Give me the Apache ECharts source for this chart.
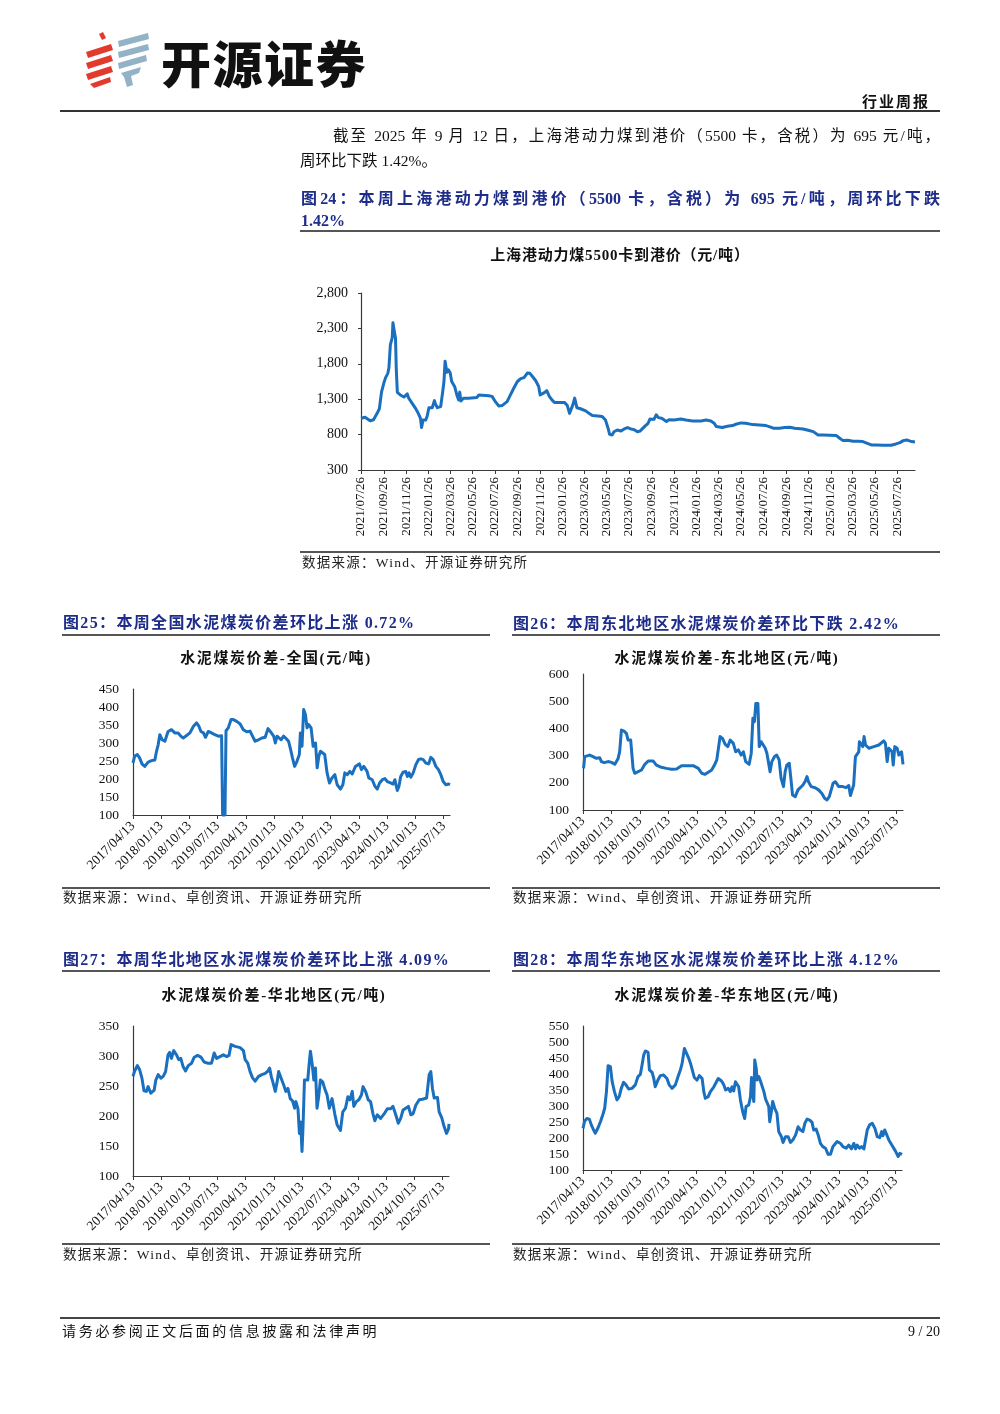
<!DOCTYPE html>
<html>
<head>
<meta charset="utf-8">
<script src="https://cdn.jsdelivr.net/npm/echarts@6/dist/echarts.min.js"></script>
<style>
  html,body{margin:0;padding:0;background:#fff;}
  #page{position:relative;width:1000px;height:1414px;overflow:hidden;background:#fff;}
  #chart{position:absolute;left:0;top:0;width:1000px;height:1414px;z-index:0;}
  .t{position:absolute;white-space:nowrap;z-index:1;font-family:"Liberation Serif","Noto Sans CJK SC",serif;color:#111;line-height:20px;}
  .cap{font-weight:bold;color:#1e2c8a;font-size:16px;letter-spacing:1.35px;}
  .ctitle{font-weight:bold;font-size:15px;letter-spacing:1.6px;text-align:center;color:#111;}
  .src{font-size:13.5px;letter-spacing:1.25px;color:#222;}
  .hl{position:absolute;z-index:1;background:#555;}
  .just{text-align:justify;text-align-last:justify;}
</style>
</head>
<body>
<div id="page">
  <div id="chart"></div>

  <!-- header logo -->
  <svg class="t" style="left:80px;top:28px;" width="75" height="62" viewBox="80 28 75 62">
    <g fill="#e23b2e">
      <polygon points="99,34 103,32 106,38 102,40"/>
      <polygon points="86,52 111,44 113,50 88,58"/>
      <polygon points="86,63 111,55 113,61 88,69"/>
      <polygon points="86,74 111,66 113,72 88,80"/>
      <polygon points="90,84 110,77 111,82 94,88"/>
    </g>
    <g fill="#92b2c6">
      <polygon points="118,41 148,33 149,39 119,47"/>
      <polygon points="118,52 148,44 149,50 119,58"/>
      <polygon points="118,63 146,55 147,61 119,69"/>
      <polygon points="121,73 141,67 139,73 131,76 133,85 127,87 124,77"/>
    </g>
  </svg>
  <div class="t" style="left:161px;top:34px;line-height:54px;font-size:50px;font-weight:900;letter-spacing:1.5px;font-family:'Noto Sans CJK SC',sans-serif;color:#111;">开源证券</div>
  <div class="t" style="right:70px;top:91px;font-size:15px;font-weight:bold;letter-spacing:2px;font-family:'Noto Sans CJK SC',sans-serif;">行业周报</div>
  <div class="hl" style="left:60px;top:110px;width:880px;height:2px;background:#333;"></div>

  <!-- paragraph -->
  <div class="t just" style="left:333px;top:126px;width:607px;font-size:15.5px;">截至 2025 年 9 月 12 日，上海港动力煤到港价（5500 卡，含税）为 695 元/吨，</div>
  <div class="t" style="left:300px;top:151px;font-size:15.5px;">周环比下跌 1.42%。</div>

  <!-- figure 24 caption -->
  <div class="t cap just" style="left:301px;top:189px;width:639px;letter-spacing:0;">图24：本周上海港动力煤到港价（5500 卡，含税）为 695 元/吨，周环比下跌</div>
  <div class="t cap" style="left:301px;top:211px;letter-spacing:0;">1.42%</div>
  <div class="hl" style="left:300px;top:230px;width:640px;height:1.5px;"></div>
  <div class="t ctitle" style="left:420px;top:245px;width:400px;letter-spacing:0.8px;">上海港动力煤5500卡到港价（元/吨）</div>
  <div class="hl" style="left:300px;top:551px;width:640px;height:1.5px;"></div>
  <div class="t src" style="left:302px;top:553px;">数据来源：Wind、开源证券研究所</div>

  <!-- figure 25 -->
  <div class="t cap" style="left:63px;top:613px;">图25：本周全国水泥煤炭价差环比上涨 0.72%</div>
  <div class="hl" style="left:62px;top:634px;width:428px;height:1.5px;"></div>
  <div class="t ctitle" style="left:126px;top:648px;width:300px;">水泥煤炭价差-全国(元/吨)</div>
  <div class="hl" style="left:62px;top:887px;width:428px;height:1.5px;"></div>
  <div class="t src" style="left:63px;top:888px;">数据来源：Wind、卓创资讯、开源证券研究所</div>

  <!-- figure 26 -->
  <div class="t cap" style="left:513px;top:614px;">图26：本周东北地区水泥煤炭价差环比下跌 2.42%</div>
  <div class="hl" style="left:512px;top:634px;width:428px;height:1.5px;"></div>
  <div class="t ctitle" style="left:577px;top:648px;width:300px;">水泥煤炭价差-东北地区(元/吨)</div>
  <div class="hl" style="left:512px;top:887px;width:428px;height:1.5px;"></div>
  <div class="t src" style="left:513px;top:888px;">数据来源：Wind、卓创资讯、开源证券研究所</div>

  <!-- figure 27 -->
  <div class="t cap" style="left:63px;top:950px;">图27：本周华北地区水泥煤炭价差环比上涨 4.09%</div>
  <div class="hl" style="left:62px;top:970px;width:428px;height:1.5px;"></div>
  <div class="t ctitle" style="left:124px;top:985px;width:300px;">水泥煤炭价差-华北地区(元/吨)</div>
  <div class="hl" style="left:62px;top:1243px;width:428px;height:1.5px;"></div>
  <div class="t src" style="left:63px;top:1245px;">数据来源：Wind、卓创资讯、开源证券研究所</div>

  <!-- figure 28 -->
  <div class="t cap" style="left:513px;top:950px;">图28：本周华东地区水泥煤炭价差环比上涨 4.12%</div>
  <div class="hl" style="left:512px;top:970px;width:428px;height:1.5px;"></div>
  <div class="t ctitle" style="left:577px;top:985px;width:300px;">水泥煤炭价差-华东地区(元/吨)</div>
  <div class="hl" style="left:512px;top:1243px;width:428px;height:1.5px;"></div>
  <div class="t src" style="left:513px;top:1245px;">数据来源：Wind、卓创资讯、开源证券研究所</div>

  <!-- footer -->
  <div class="hl" style="left:60px;top:1317px;width:880px;height:2px;background:#444;"></div>
  <div class="t" style="left:62px;top:1322px;font-size:14px;letter-spacing:2.7px;">请务必参阅正文后面的信息披露和法律声明</div>
  <div class="t" style="right:60px;top:1322px;font-size:14px;">9 / 20</div>
</div>

<script>
// ---------------- DATA ----------------
// Fig 24: 上海港动力煤5500卡到港价（元/吨）
const shTickLabels = ['2021/07/26','2021/09/26','2021/11/26','2022/01/26','2022/03/26','2022/05/26','2022/07/26','2022/09/26','2022/11/26','2023/01/26','2023/03/26','2023/05/26','2023/07/26','2023/09/26','2023/11/26','2024/01/26','2024/03/26','2024/05/26','2024/07/26','2024/09/26','2024/11/26','2025/01/26','2025/03/26','2025/05/26','2025/07/26'];
const shDates = ['2021-07-26','2021-08-06','2021-08-20','2021-08-29','2021-09-08','2021-09-14','2021-09-20','2021-09-26','2021-10-01','2021-10-07','2021-10-10','2021-10-14','2021-10-19','2021-10-21','2021-10-24','2021-10-28','2021-10-30','2021-11-02','2021-11-10','2021-11-20','2021-11-29','2021-12-03','2021-12-12','2021-12-21','2021-12-29','2022-01-04','2022-01-07','2022-01-11','2022-01-18','2022-01-22','2022-01-27','2022-02-05','2022-02-11','2022-02-14','2022-02-19','2022-02-28','2022-03-05','2022-03-09','2022-03-12','2022-03-17','2022-03-21','2022-03-26','2022-03-30','2022-04-07','2022-04-13','2022-04-18','2022-04-21','2022-04-24','2022-05-01','2022-05-15','2022-06-07','2022-06-12','2022-07-09','2022-07-18','2022-07-27','2022-08-05','2022-08-14','2022-08-28','2022-09-06','2022-09-15','2022-09-25','2022-10-04','2022-10-13','2022-10-22','2022-10-29','2022-11-05','2022-11-14','2022-11-22','2022-11-26','2022-12-01','2022-12-05','2022-12-14','2022-12-21','2022-12-28','2023-01-04','2023-01-13','2023-01-31','2023-02-08','2023-02-14','2023-02-19','2023-02-23','2023-02-28','2023-03-03','2023-03-06','2023-03-16','2023-03-30','2023-04-08','2023-04-17','2023-04-26','2023-05-14','2023-05-23','2023-05-30','2023-06-03','2023-06-10','2023-06-15','2023-06-24','2023-07-04','2023-07-13','2023-07-22','2023-07-31','2023-08-09','2023-08-18','2023-08-25','2023-08-31','2023-09-09','2023-09-16','2023-09-21','2023-10-02','2023-10-08','2023-10-14','2023-10-23','2023-11-05','2023-11-12','2023-11-26','2023-12-14','2023-12-28','2024-01-15','2024-02-07','2024-02-21','2024-03-05','2024-03-14','2024-03-20','2024-04-05','2024-04-19','2024-05-03','2024-05-12','2024-05-26','2024-06-08','2024-06-27','2024-07-15','2024-08-02','2024-08-11','2024-08-22','2024-09-08','2024-09-22','2024-10-06','2024-10-19','2024-11-11','2024-11-25','2024-12-09','2024-12-22','2025-01-05','2025-01-23','2025-02-10','2025-02-19','2025-02-28','2025-03-13','2025-03-27','2025-04-09','2025-04-23','2025-05-07','2025-05-16','2025-05-30','2025-06-17','2025-07-09','2025-07-22','2025-08-02','2025-08-11','2025-08-20','2025-09-03','2025-09-12'];
const shPrices = [1030,1045,995,1010,1100,1165,1405,1525,1605,1665,1740,2070,2165,2380,2280,2160,1740,1395,1360,1330,1375,1315,1245,1175,1100,1030,900,1005,1005,1055,1180,1180,1280,1230,1180,1195,1385,1550,1835,1680,1715,1670,1550,1480,1360,1290,1400,1275,1315,1315,1325,1360,1350,1340,1265,1205,1210,1265,1360,1455,1550,1590,1605,1670,1665,1620,1560,1480,1360,1340,1385,1420,1340,1290,1255,1255,1255,1210,1100,1090,1220,1315,1290,1180,1165,1135,1100,1070,1065,1055,1005,890,805,795,840,865,850,880,900,880,870,840,850,880,927,960,1020,1015,1080,1040,1030,985,1010,1005,1020,1005,993,993,1005,993,960,913,900,918,927,946,965,960,941,937,927,913,890,890,899,904,890,880,861,842,795,795,791,786,748,715,720,706,706,701,673,654,654,649,649,668,687,715,725,701,695];

// Fig 25-28: 水泥煤炭价差（元/吨）
const cementTickLabels = ['2017/04/13','2018/01/13','2018/10/13','2019/07/13','2020/04/13','2021/01/13','2021/10/13','2022/07/13','2023/04/13','2024/01/13','2024/10/13','2025/07/13'];

const nationalDates = ['2017-04-13','2017-04-29','2017-05-25','2017-06-17','2017-07-09','2017-08-05','2017-09-07','2017-10-09','2017-11-11','2017-11-27','2017-12-13','2017-12-29','2018-01-21','2018-02-16','2018-03-19','2018-04-21','2018-05-23','2018-06-25','2018-07-20','2018-08-13','2018-09-15','2018-10-17','2018-11-19','2018-12-21','2019-01-13','2019-02-01','2019-02-25','2019-03-17','2019-04-13','2019-05-14','2019-06-16','2019-07-19','2019-08-20','2019-08-30','2019-09-22','2019-10-02','2019-10-24','2019-11-20','2019-12-12','2020-01-14','2020-02-16','2020-03-18','2020-04-20','2020-05-22','2020-06-15','2020-07-10','2020-08-12','2020-09-14','2020-10-16','2020-11-12','2020-12-04','2021-01-06','2021-01-22','2021-02-08','2021-02-24','2021-03-20','2021-04-12','2021-05-08','2021-05-30','2021-06-16','2021-07-08','2021-07-28','2021-08-20','2021-09-12','2021-09-22','2021-10-08','2021-10-24','2021-11-10','2021-11-26','2021-12-12','2022-01-04','2022-01-14','2022-01-24','2022-02-16','2022-03-04','2022-03-20','2022-04-05','2022-04-20','2022-05-16','2022-06-08','2022-07-01','2022-07-26','2022-08-22','2022-09-14','2022-10-16','2022-11-08','2022-11-27','2022-12-20','2023-01-15','2023-02-07','2023-03-10','2023-03-26','2023-04-18','2023-05-07','2023-05-30','2023-07-01','2023-07-17','2023-08-20','2023-09-15','2023-10-08','2023-10-30','2023-11-26','2023-12-21','2024-01-13','2024-02-15','2024-03-08','2024-03-27','2024-04-09','2024-04-19','2024-05-05','2024-05-22','2024-06-14','2024-07-10','2024-07-26','2024-08-11','2024-08-28','2024-09-20','2024-10-16','2024-11-11','2024-12-04','2024-12-26','2025-01-21','2025-02-17','2025-03-10','2025-04-02','2025-04-28','2025-05-23','2025-06-15','2025-07-08','2025-08-03','2025-08-29','2025-09-12'];
const nationalSpread = [245,263,268,258,242,235,247,251,253,277,295,323,309,305,332,337,328,328,319,314,321,328,346,356,346,332,328,316,332,328,323,319,320,100,100,334,342,365,365,360,353,337,331,333,319,305,309,314,316,340,332,319,300,319,323,309,319,312,305,286,258,235,249,268,328,291,393,379,342,351,342,346,291,300,231,263,277,281,268,217,189,203,212,184,172,184,217,212,221,214,235,235,242,226,235,221,203,198,180,172,189,198,201,193,189,186,198,180,168,180,207,219,221,207,217,205,217,240,254,256,254,244,242,260,254,235,226,212,193,184,186,184];

const northeastDates = ['2017-04-19','2017-04-29','2017-05-15','2017-06-16','2017-07-18','2017-08-20','2017-09-21','2017-10-07','2017-11-02','2017-12-10','2018-01-12','2018-02-13','2018-03-15','2018-03-31','2018-04-17','2018-05-12','2018-06-04','2018-06-20','2018-07-15','2018-08-07','2018-08-23','2018-09-25','2018-10-27','2018-11-28','2018-12-30','2019-02-17','2019-03-19','2019-05-06','2019-06-24','2019-08-11','2019-09-29','2019-11-16','2020-01-03','2020-03-07','2020-04-25','2020-05-27','2020-06-28','2020-08-06','2020-08-31','2020-09-27','2020-10-19','2020-11-04','2020-11-20','2020-12-13','2021-01-08','2021-02-02','2021-02-25','2021-03-27','2021-04-19','2021-05-14','2021-06-10','2021-07-02','2021-07-24','2021-08-26','2021-09-15','2021-10-01','2021-10-16','2021-10-29','2021-11-18','2021-12-01','2021-12-20','2022-01-05','2022-01-28','2022-02-13','2022-03-01','2022-03-15','2022-04-01','2022-04-26','2022-05-18','2022-06-10','2022-06-29','2022-07-22','2022-08-07','2022-08-23','2022-09-15','2022-10-01','2022-10-17','2022-11-12','2022-12-08','2022-12-30','2023-01-25','2023-02-17','2023-03-05','2023-03-19','2023-04-14','2023-05-22','2023-06-24','2023-07-26','2023-08-21','2023-09-13','2023-10-05','2023-10-24','2023-11-10','2023-12-02','2024-01-04','2024-02-11','2024-03-14','2024-04-09','2024-04-25','2024-05-11','2024-05-26','2024-06-12','2024-06-28','2024-07-14','2024-07-20','2024-08-08','2024-08-22','2024-09-03','2024-09-17','2024-10-19','2024-12-06','2025-01-23','2025-03-11','2025-03-27','2025-04-13','2025-04-29','2025-05-14','2025-05-30','2025-06-10','2025-06-25','2025-07-18','2025-08-03','2025-08-29','2025-09-09','2025-09-12'];
const northeastSpread = [253,296,302,302,296,290,292,278,274,278,275,268,288,314,394,390,382,357,357,253,235,241,247,268,280,280,265,257,253,250,251,263,263,263,253,235,231,241,247,265,284,278,370,363,341,333,357,345,314,321,302,314,278,268,308,437,425,492,492,333,351,357,327,308,314,241,278,296,302,284,216,186,241,265,272,216,155,149,174,182,192,207,223,204,186,182,174,161,143,137,149,155,198,204,186,186,182,190,153,149,192,296,302,314,351,345,333,370,339,327,333,339,354,345,278,327,333,314,265,333,327,302,314,278,268];

const northDates = ['2017-04-13','2017-04-29','2017-05-25','2017-06-17','2017-07-09','2017-07-29','2017-08-21','2017-09-07','2017-10-03','2017-10-19','2017-11-05','2017-11-21','2017-12-14','2018-01-09','2018-02-01','2018-02-24','2018-03-20','2018-04-05','2018-04-22','2018-05-14','2018-06-10','2018-07-02','2018-07-22','2018-08-14','2018-09-06','2018-10-02','2018-11-04','2018-11-30','2019-01-01','2019-02-03','2019-03-06','2019-04-08','2019-05-17','2019-06-12','2019-07-05','2019-08-07','2019-09-09','2019-10-11','2019-11-03','2019-11-23','2020-01-01','2020-02-19','2020-03-22','2020-04-08','2020-05-03','2020-05-26','2020-06-18','2020-07-14','2020-08-16','2020-09-18','2020-10-20','2020-11-16','2020-12-02','2020-12-18','2021-01-10','2021-01-26','2021-02-12','2021-02-28','2021-03-24','2021-04-17','2021-05-09','2021-05-29','2021-06-21','2021-07-14','2021-08-02','2021-08-15','2021-09-04','2021-09-18','2021-09-30','2021-10-13','2021-10-23','2021-11-06','2021-11-22','2021-12-08','2021-12-18','2022-01-03','2022-01-19','2022-02-05','2022-02-21','2022-03-08','2022-03-24','2022-04-10','2022-05-02','2022-05-21','2022-06-14','2022-07-06','2022-08-01','2022-08-27','2022-09-20','2022-10-22','2022-11-14','2022-12-10','2023-01-02','2023-01-22','2023-02-14','2023-03-01','2023-03-26','2023-04-19','2023-05-14','2023-05-30','2023-06-23','2023-07-19','2023-08-11','2023-09-03','2023-09-22','2023-10-15','2023-11-17','2023-12-19','2024-01-21','2024-02-23','2024-03-16','2024-04-12','2024-05-07','2024-05-30','2024-06-22','2024-07-18','2024-08-13','2024-09-06','2024-09-28','2024-10-24','2024-11-26','2024-12-28','2025-02-06','2025-03-03','2025-03-19','2025-04-04','2025-04-21','2025-05-23','2025-06-08','2025-07-04','2025-07-27','2025-08-19','2025-09-08','2025-09-12'];
const northSpread = [266,275,284,277,263,242,241,249,238,235,243,260,269,263,266,274,302,306,296,309,302,294,296,282,275,284,288,298,301,298,290,288,288,305,296,299,302,299,301,319,316,314,309,294,288,274,264,258,266,269,271,275,280,266,252,241,256,274,263,252,241,246,229,225,213,224,212,171,190,141,182,260,263,260,280,308,288,260,280,213,232,260,257,246,235,213,229,204,185,176,207,213,232,227,241,216,224,227,235,249,241,227,224,204,192,202,196,203,212,212,216,202,188,196,210,213,216,202,204,218,227,228,230,269,274,246,230,231,207,197,182,171,179,187];

const eastDates = ['2017-04-13','2017-04-29','2017-05-21','2017-06-13','2017-07-02','2017-07-24','2017-08-10','2017-09-05','2017-09-28','2017-10-20','2017-11-08','2017-11-25','2017-12-11','2018-01-02','2018-01-19','2018-02-10','2018-03-06','2018-03-28','2018-04-17','2018-05-09','2018-06-01','2018-06-27','2018-07-29','2018-08-30','2018-09-25','2018-10-18','2018-11-03','2018-11-19','2018-12-05','2018-12-31','2019-01-13','2019-02-08','2019-02-24','2019-03-10','2019-04-05','2019-04-28','2019-05-29','2019-07-01','2019-07-23','2019-08-19','2019-09-20','2019-10-16','2019-11-08','2019-11-24','2019-12-16','2020-01-04','2020-01-27','2020-02-13','2020-03-01','2020-03-21','2020-04-16','2020-05-08','2020-06-04','2020-06-20','2020-07-05','2020-08-01','2020-08-23','2020-09-25','2020-11-06','2020-12-08','2020-12-30','2021-01-16','2021-02-10','2021-03-03','2021-03-19','2021-04-04','2021-04-21','2021-05-06','2021-05-22','2021-06-08','2021-06-30','2021-07-19','2021-08-01','2021-08-27','2021-09-13','2021-09-23','2021-10-05','2021-10-15','2021-10-24','2021-11-07','2021-11-16','2021-12-02','2021-12-18','2022-01-04','2022-01-20','2022-02-05','2022-02-21','2022-03-08','2022-03-17','2022-04-02','2022-04-15','2022-05-04','2022-05-26','2022-06-12','2022-07-08','2022-07-24','2022-08-16','2022-09-11','2022-10-03','2022-10-26','2022-11-21','2022-12-16','2023-01-08','2023-01-31','2023-02-19','2023-03-12','2023-04-07','2023-04-29','2023-05-15','2023-06-07','2023-06-26','2023-07-19','2023-08-11','2023-09-06','2023-10-01','2023-10-24','2023-11-16','2023-12-05','2023-12-27','2024-01-29','2024-02-20','2024-03-23','2024-04-18','2024-05-13','2024-06-05','2024-06-21','2024-07-07','2024-07-29','2024-08-18','2024-09-10','2024-09-26','2024-10-12','2024-11-04','2024-11-29','2024-12-25','2025-01-17','2025-02-09','2025-02-28','2025-03-12','2025-03-30','2025-04-15','2025-05-08','2025-06-03','2025-06-19','2025-07-11','2025-08-06','2025-08-22','2025-09-12'];
const eastSpread = [230,253,261,259,241,225,215,232,251,272,293,345,426,423,376,345,319,329,355,374,366,353,355,366,392,399,428,459,472,468,413,405,386,360,381,395,397,386,366,355,366,392,413,433,480,475,449,433,413,389,381,395,386,345,324,329,345,360,386,378,366,350,355,345,360,347,376,378,360,319,282,261,298,303,329,389,339,314,444,418,381,392,378,376,345,322,324,298,251,282,314,293,277,220,204,186,204,204,186,194,209,235,225,220,246,259,256,249,225,228,211,183,173,168,149,149,173,178,189,183,173,168,178,166,183,166,178,168,173,166,170,225,241,246,230,204,201,220,207,225,220,194,180,183,159,142,152,149];

// ---------------- HELPERS ----------------
function ts(s){const p=s.split(/[\/-]/).map(Number);return new Date(p[0],p[1]-1,p[2]).getTime();}
function fmtDate(v){const d=new Date(v);const mm=String(d.getMonth()+1).padStart(2,'0');const dd=String(d.getDate()).padStart(2,'0');return d.getFullYear()+'/'+mm+'/'+dd;}
function pairs(dates, vals){return dates.map((d,i)=>[ts(d), vals[i]]);}

const LINE = '#1a6fbf';
const AXIS = '#3a3a3a';
const FONT = '"Liberation Serif", "Times New Roman", serif';

const grids = [
  {left:361, top:293, width:554, height:177},          // fig 24
  {left:133, top:689, width:317, height:126},          // fig 25
  {left:583, top:674, width:320, height:136},          // fig 26
  {left:133, top:1026, width:316, height:150},         // fig 27
  {left:583, top:1026, width:319, height:144}          // fig 28
].map(g => Object.assign({outerBoundsMode:'none', containLabel:false}, g));

const shTicks = shTickLabels.map(ts);
const ceTicks = cementTickLabels.map(ts);

// x axes: dates as timestamps on a value scale, ticks/labels placed at the report's own tick dates
function dateX(gi, minD, maxD, ticks, rotate, margin, fs){
  return {
    type:'value', gridIndex:gi, min:ts(minD), max:ts(maxD), scale:true,
    axisLine:{show:true, onZero:false, lineStyle:{color:AXIS, width:1.2}},
    axisTick:{show:true, customValues:ticks, length:4, lineStyle:{color:AXIS}},
    axisLabel:{show:true, customValues:ticks, rotate:rotate, margin:margin, formatter:(v)=>fmtDate(v),
      fontFamily:FONT, fontSize:fs, color:'#111', hideOverlap:false, showMinLabel:true, showMaxLabel:true},
    splitLine:{show:false}, minorTick:{show:false}
  };
}
function valY(gi, min, max, interval, fmt, ticks, fs){
  return {
    type:'value', gridIndex:gi, min:min, max:max, interval:interval,
    axisLine:{show:true, lineStyle:{color:AXIS, width:1.2}},
    axisTick:{show:ticks, inside:false, length:3, lineStyle:{color:AXIS}},
    axisLabel:{margin:ticks?13:14, fontFamily:FONT, fontSize:fs, color:'#111', formatter:fmt},
    splitLine:{show:false}
  };
}
function lineSeries(gi, data, w){
  return {type:'line', xAxisIndex:gi, yAxisIndex:gi, data:data, showSymbol:false, symbol:'none',
    lineStyle:{color:LINE, width:w, join:'round'}, itemStyle:{color:LINE}, animation:false, z:3, clip:false};
}

const option = {
  animation:false,
  backgroundColor:'transparent',
  grid: grids,
  xAxis: [
    dateX(0,'2021-07-26','2025-09-12',shTicks,90,7,13),
    dateX(1,'2017-04-13','2025-09-12',ceTicks,45,9,13.5),
    dateX(2,'2017-04-13','2025-09-12',ceTicks,45,9,13.5),
    dateX(3,'2017-04-13','2025-09-12',ceTicks,45,9,13.5),
    dateX(4,'2017-04-13','2025-09-12',ceTicks,45,9,13.5)
  ],
  yAxis: [
    valY(0,300,2800,500,(v)=>v.toLocaleString('en-US'),true,14),
    valY(1,100,450,50,null,false,13.5),
    valY(2,100,600,100,null,false,13.5),
    valY(3,100,350,50,null,false,13.5),
    valY(4,100,550,50,null,false,13.5)
  ],
  series: [
    lineSeries(0, pairs(shDates, shPrices), 3),
    lineSeries(1, pairs(nationalDates, nationalSpread), 3),
    lineSeries(2, pairs(northeastDates, northeastSpread), 3),
    lineSeries(3, pairs(northDates, northSpread), 3),
    lineSeries(4, pairs(eastDates, eastSpread), 3)
  ]
};

const chart = echarts.init(document.getElementById('chart'), null, {renderer:'canvas'});
chart.setOption(option);
</script>
</body>
</html>
